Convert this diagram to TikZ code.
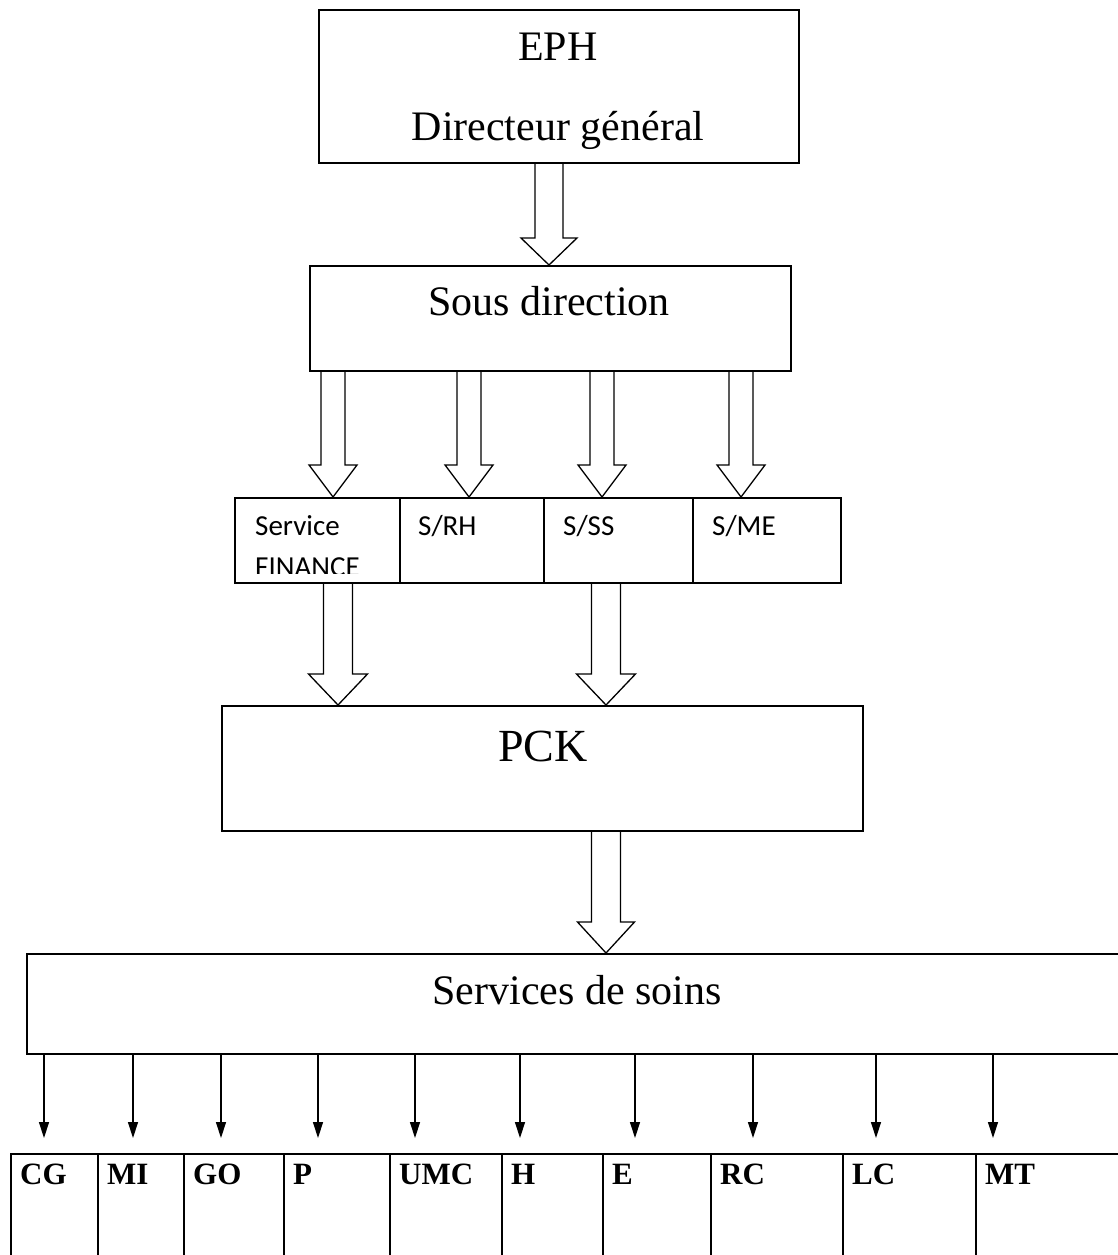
\documentclass[tikz,border=0pt]{standalone}
\usepackage{fontspec}
\setmainfont{Liberation Serif}
\newfontfamily\calib{Carlito}
\usetikzlibrary{arrows.meta,calc}
\newcommand\blkarrow[6]{% x, source node, target node, half shaft, half head, head height
  \draw[bar] let \p1=(#2.south), \p2=(#3.north), \p3=(#1,0) in
    (\x3-#4pt,\y1) -- (\x3-#4pt,\y2+#6pt) -- (\x3-#5pt,\y2+#6pt) -- (\x3,\y2)
    -- (\x3+#5pt,\y2+#6pt) -- (\x3+#4pt,\y2+#6pt) -- (\x3+#4pt,\y1);}
\newcommand\smallarr[3]{% x, source node, target node
  \draw[sar] let \p1=(#2.south), \p2=(#3.north), \p3=(#1,0) in
    (\x3,\y1) -- (\x3,\y2+15pt);}
\begin{document}
\begin{tikzpicture}[x=1pt,y=-1pt,
  box/.style={draw,line width=1.6pt,rectangle,inner sep=0pt,anchor=north west},
  bar/.style={draw,line width=1.3pt,line join=miter},
  sar/.style={line width=1.3pt,-{Triangle[width=10pt,length=16pt]}},
  big/.style={anchor=base,inner sep=0pt,font=\fontsize{42}{50}\selectfont},
  svc/.style={anchor=base west,inner sep=0pt,font=\calib\fontsize{29}{34}\selectfont},
  lab/.style={anchor=base west,inner sep=0pt,font=\bfseries\fontsize{31}{36}\selectfont}]
\useasboundingbox (0,0) rectangle (1117,1255);

% top box
\node[box,minimum width=480pt,minimum height=153pt] (eph) at (318,9) {};
\node[big] (eph-t1) at (558,60) {EPH};
\node[big] (eph-t2) at (558,140) {Directeur général};

% sous direction
\node[box,minimum width=481pt,minimum height=105pt] (sd) at (309,265) {};
\node[big] (sd-t) at (549,315) {Sous direction};

% service row
\node[box,minimum width=165pt,minimum height=85pt] (fin) at (234,497) {};
\node[box,minimum width=144pt,minimum height=85pt] (srh) at (399,497) {};
\node[box,minimum width=149pt,minimum height=85pt] (sss) at (543,497) {};
\node[box,minimum width=148pt,minimum height=85pt] (sme) at (692,497) {};
\node[svc] (fin-t1) at (255,535) {Service};
\begin{scope}
  \clip (234,497) rectangle (399,573);
  \node[svc] (fin-t2) at (255,576) {FINANCE};
\end{scope}
\node[svc] (srh-t) at (418,535) {S/RH};
\node[svc] (sss-t) at (563,535) {S/SS};
\node[svc] (sme-t) at (712,535) {S/ME};

% PCK
\node[box,minimum width=641pt,minimum height=125pt] (pck) at (221,705) {};
\node[big,font=\fontsize{46}{54}\selectfont] (pck-t) at (543,761) {PCK};

% services de soins
\node[box,minimum width=1104pt,minimum height=100pt] (ss) at (26,953) {};
\node[big] (ss-t) at (577,1004) {Services de soins};

% bottom row
\node[box,minimum width=87pt,minimum height=130pt] (cg) at (10,1153) {};
\node[box,minimum width=86pt,minimum height=130pt] (mi) at (97,1153) {};
\node[box,minimum width=100pt,minimum height=130pt] (go) at (183,1153) {};
\node[box,minimum width=106pt,minimum height=130pt] (p) at (283,1153) {};
\node[box,minimum width=112pt,minimum height=130pt] (umc) at (389,1153) {};
\node[box,minimum width=101pt,minimum height=130pt] (h) at (501,1153) {};
\node[box,minimum width=108pt,minimum height=130pt] (e) at (602,1153) {};
\node[box,minimum width=132pt,minimum height=130pt] (rc) at (710,1153) {};
\node[box,minimum width=133pt,minimum height=130pt] (lc) at (842,1153) {};
\node[box,minimum width=160pt,minimum height=130pt] (mt) at (975,1153) {};
\node[lab] (cg-t) at (20,1184) {CG};
\node[lab] (mi-t) at (107,1184) {MI};
\node[lab] (go-t) at (193,1184) {GO};
\node[lab] (p-t) at (293,1184) {P};
\node[lab] (umc-t) at (399,1184) {UMC};
\node[lab] (h-t) at (511,1184) {H};
\node[lab] (e-t) at (612,1184) {E};
\node[lab] (rc-t) at (720,1184) {RC};
\node[lab] (lc-t) at (852,1184) {LC};
\node[lab] (mt-t) at (985,1184) {MT};

% block arrows
\blkarrow{549}{eph}{sd}{14}{28}{27}
\blkarrow{333}{sd}{fin}{12}{24}{32}
\blkarrow{469}{sd}{srh}{12}{24}{32}
\blkarrow{602}{sd}{sss}{12}{24}{32}
\blkarrow{741}{sd}{sme}{12}{24}{32}
\blkarrow{338}{fin}{pck}{14.5}{29.5}{31}
\blkarrow{606}{sss}{pck}{14.5}{29.5}{31}
\blkarrow{606}{pck}{ss}{14.5}{28.5}{31}

% small arrows
\smallarr{44}{ss}{cg}
\smallarr{133}{ss}{mi}
\smallarr{221}{ss}{go}
\smallarr{318}{ss}{p}
\smallarr{415}{ss}{umc}
\smallarr{520}{ss}{h}
\smallarr{635}{ss}{e}
\smallarr{753}{ss}{rc}
\smallarr{876}{ss}{lc}
\smallarr{993}{ss}{mt}
\end{tikzpicture}
\end{document}
